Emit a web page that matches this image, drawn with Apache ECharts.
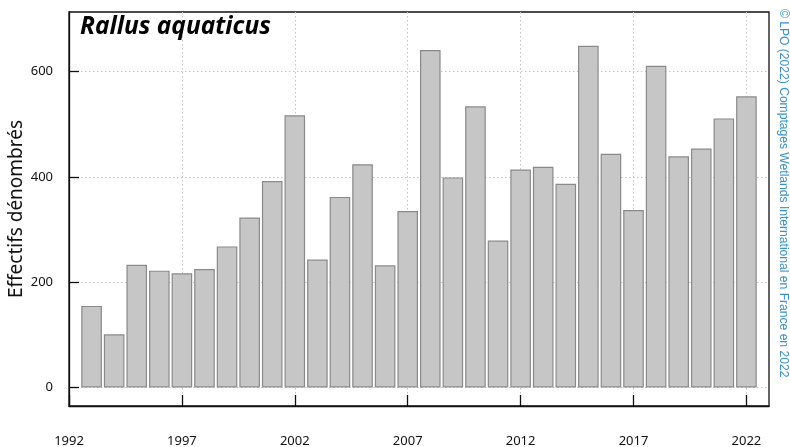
<!DOCTYPE html>
<html>
<head>
<meta charset="utf-8">
<script src="https://cdn.jsdelivr.net/npm/echarts@6/dist/echarts.min.js"></script>
<style>
html,body{margin:0;padding:0;background:#fff;}
#c{width:790px;height:447px;}
</style>
</head>
<body>
<div id="c"></div>
<script>
const years = [1993,1994,1995,1996,1997,1998,1999,2000,2001,2002,2003,2004,2005,2006,2007,2008,2009,2010,2011,2012,2013,2014,2015,2016,2017,2018,2019,2020,2021,2022];
const counts = [155,101,233,222,217,225,268,323,392,517,243,362,424,232,335,641,399,534,279,414,419,387,649,444,337,611,439,454,511,553];
const xTicks = [1992,1997,2002,2007,2012,2017,2022];
const yTicks = [0,200,400,600];
const title = 'Rallus aquaticus';
const yName = 'Effectifs dénombrés';
const credit = '© LPO (2022) Comptages Wetlands International en France en 2022';

const chart = echarts.init(document.getElementById('c'), null, {renderer:'canvas'});
const gridLine = {show:true, lineStyle:{color:'#c4c4c4', width:1, type:[1.5,2.5]}};
chart.setOption({
  animation:false,
  backgroundColor:'#fff',
  grid:{left:69, right:21, top:12, bottom:41, containLabel:false, outerBoundsMode:'none', show:true, borderColor:'#111', borderWidth:1.3, backgroundColor:'transparent'},
  title:{text:title, left:75, top:10, textStyle:{fontFamily:'Open Sans', fontStyle:'italic', fontWeight:'bold', fontSize:24.5, color:'#000'}},
  xAxis:{
    type:'value', min:1992, max:2023,
    axisLine:{show:true, onZero:false, lineStyle:{color:'#111', width:1.3}},
    axisTick:{show:true, inside:true, length:11, lineStyle:{color:'#111', width:1.3}, customValues:xTicks},
    axisLabel:{show:true, margin:29, fontFamily:'Noto Sans', fontSize:13, color:'#111', customValues:xTicks, formatter:v=>String(v)},
    splitLine:gridLine
  },
  yAxis:{
    type:'value', min:-35, max:713,
    name:yName, nameLocation:'middle', nameGap:43, nameRotate:90, nameMoveOverlap:false,
    nameTextStyle:{fontFamily:'Noto Sans', fontSize:19, color:'#111'},
    axisLine:{show:true, onZero:false, lineStyle:{color:'#111', width:1.3}},
    axisTick:{show:true, inside:true, length:10, lineStyle:{color:'#111', width:1.3}, customValues:yTicks},
    axisLabel:{show:true, margin:16, fontFamily:'Noto Sans', fontSize:13, color:'#111', customValues:yTicks},
    splitLine:gridLine
  },
  series:[{
    type:'bar',
    data:years.map((y,i)=>[y,counts[i]]),
    barWidth:20.6,
    itemStyle:{color:'#c6c6c6', borderColor:'#8a8a8a', borderWidth:1.2},
    silent:true
  }],
  graphic:[{
    type:'text',
    x:783, y:9,
    rotation:-Math.PI/2,
    style:{text:credit, fill:'#3990cc', fontFamily:'Liberation Sans', fontSize:12.1, align:'left', verticalAlign:'middle'}
  }]
});
</script>
</body>
</html>
